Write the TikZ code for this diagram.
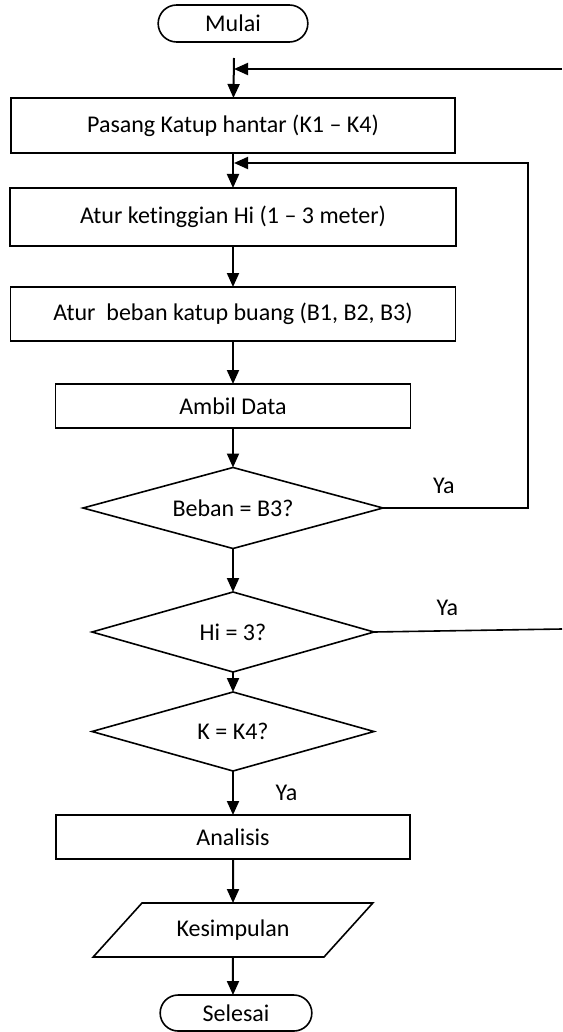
\documentclass[tikz,border=0pt]{standalone}
\usepackage{fontspec}
\setmainfont{Carlito}[Ligatures=NoCommon]
\usetikzlibrary{arrows.meta,positioning,shapes.geometric,shapes.misc}

\begin{document}
\begin{tikzpicture}[
  x=1pt, y=1pt,
  ->, >={Triangle[width=6pt,length=7pt]},
  line width=1pt,
  font=\fontsize{12}{14.4}\selectfont,
  every node/.style={outer sep=0pt},
  proc/.style={draw, rectangle, line width=0.9pt, align=center},
  decide/.style={draw, diamond, line width=0.8pt, inner sep=0pt, aspect=3.6},
  term/.style={draw, rounded rectangle, line width=0.8pt, minimum width=81.5pt, minimum height=18.5pt},
  io/.style={draw, trapezium, trapezium left angle=45, trapezium right angle=135, trapezium stretches=true, line width=0.8pt, minimum width=140pt, minimum height=27pt},
]
  \useasboundingbox (0,0) rectangle (281,-516);

  \node[term] (mulai) at (116.5,-11.75) {Mulai};
  \node[proc, minimum width=222pt, minimum height=27.5pt, below=28pt of mulai] (pasang) {Pasang Katup hantar (K1 – K4)};
  \node[proc, minimum width=223pt, minimum height=29pt, below=17.5pt of pasang] (tinggi) {Atur ketinggian Hi (1 – 3 meter)};
  \node[proc, minimum width=222.5pt, minimum height=27pt, below=20.5pt of tinggi] (beban) {Atur~ beban katup buang (B1, B2, B3)};
  \node[proc, minimum width=177.5pt, minimum height=22pt, below=21.5pt of beban] (ambil) {Ambil Data};
  \node[decide, minimum width=150pt, minimum height=40.5pt, below=19.75pt of ambil] (cekbeban) {Beban = B3?};
  \node[decide, minimum width=141pt, minimum height=40pt, below=21.75pt of cekbeban] (cektinggi) {Hi = 3?};
  \node[decide, minimum width=141pt, minimum height=39.5pt, below=10pt of cektinggi] (cekk) {K = K4?};
  \node[proc, minimum width=177pt, minimum height=22pt, below=22pt of cekk] (analisis) {Analisis};
  \node[io, below=22pt of analisis] (simpul) {Kesimpulan};
  \node[term, minimum width=82.5pt, minimum height=18pt, below=19pt of simpul, xshift=1.5pt] (selesai) {Selesai};

  % titik bantu untuk jalur balik
  \coordinate (s) at (117,-29);
  \coordinate (j1) at (117,-34.5);
  \coordinate (j2) at (117,-81.5);
  \coordinate (r0) at (281,-34.5);
  \coordinate (r1) at (264,-81.5);
  \coordinate (r2) at (281,-314.5);

  \draw (s) -- (pasang);
  \draw (pasang) -- (tinggi);
  \draw (tinggi) -- (beban);
  \draw (beban) -- (ambil);
  \draw (ambil) -- (cekbeban);
  \draw (cekbeban) -- (cektinggi);
  \draw (cektinggi) -- (cekk);
  \draw (cekk) -- node[right=18pt] (ya3) {Ya} (analisis);
  \draw (analisis) -- (simpul);
  \draw (simpul) -- (simpul|-selesai.north);

  \draw (r0) -- (j1);
  \draw (cekbeban.east) -| node[pos=0.21, above=4pt] (ya1) {Ya} (r1) -- (j2);
  \draw[-, line width=0.8pt] (cektinggi.east) -- node[pos=0.39, above=4pt] (ya2) {Ya} (r2);
\end{tikzpicture}
\end{document}
